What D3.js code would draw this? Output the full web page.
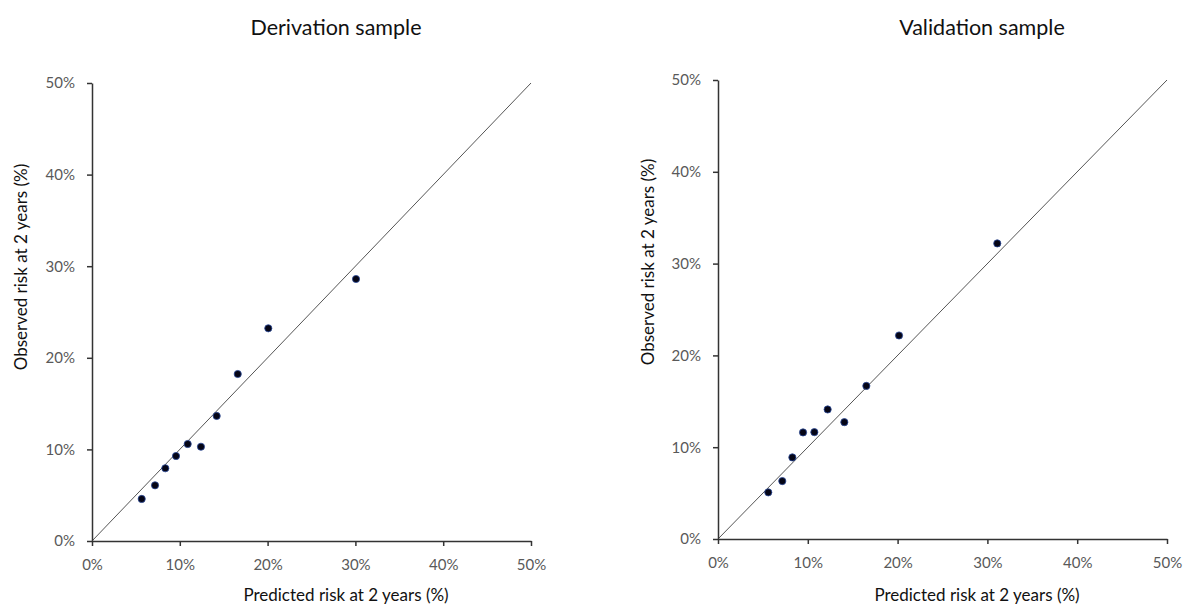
<!DOCTYPE html>
<html>
<head>
<meta charset="utf-8">
<script src="https://cdn.jsdelivr.net/npm/d3@7"></script>
<style>
  body { margin: 0; background: #fff; }
  text { font-family: Lato, "Open Sans", sans-serif; }
</style>
</head>
<body>
<div id="chart"></div>
<script>
// tick values shared by both panels (fractions)
var tickValues = [0, 0.1, 0.2, 0.3, 0.4, 0.5];

// derivation sample: predicted vs observed risk
var derivPredicted = [0.0566, 0.0718, 0.0835, 0.0957, 0.109, 0.1241, 0.142, 0.166, 0.2008, 0.3007];
var derivObserved  = [0.0459, 0.0608, 0.0794, 0.0928, 0.1059, 0.1029, 0.1365, 0.1823, 0.2322, 0.286];

// validation sample
var validPredicted = [0.056, 0.0716, 0.0828, 0.0947, 0.1073, 0.1221, 0.1407, 0.1652, 0.2016, 0.311];
var validObserved  = [0.0508, 0.0631, 0.0889, 0.1161, 0.1164, 0.1411, 0.1273, 0.1668, 0.2217, 0.322];

var titles = ["Derivation sample", "Validation sample"];
var xLabel = "Predicted risk at 2 years (%)";
var yLabel = "Observed risk at 2 years (%)";

var svg = d3.select("#chart")
    .append("svg")
        .attr("width", 1186)
        .attr("height", 605);

// panel frames (plot area in page pixels)
var panels = [
    {title: titles[0], pred: derivPredicted, obs: derivObserved,
     left: 92, right: 531, top: 83, bottom: 541, titleX: 336, yTitleX: 21, yTitleY: 267, xTitleX: 346},
    {title: titles[1], pred: validPredicted, obs: validObserved,
     left: 718, right: 1167, top: 80, bottom: 539, titleX: 982, yTitleX: 648, yTitleY: 262, xTitleX: 977}
];

var fmt = d3.format(".0%");

panels.forEach(function(p) {
    var x = d3.scaleLinear().domain([0, 0.5]).range([p.left, p.right]);
    var y = d3.scaleLinear().domain([0, 0.5]).range([p.bottom, p.top]);

    // reference diagonal
    svg.append("line")
        .attr("x1", x(0)).attr("y1", y(0))
        .attr("x2", x(0.5)).attr("y2", y(0.5))
        .attr("stroke", "#555")
        .attr("stroke-width", 1);

    // axes
    var gx = svg.append("g")
        .attr("transform", "translate(0," + p.bottom + ")")
        .call(d3.axisBottom(x).tickValues(tickValues).tickFormat(fmt).tickSize(5).tickSizeOuter(0));
    var gy = svg.append("g")
        .attr("transform", "translate(" + p.left + ",0)")
        .call(d3.axisLeft(y).tickValues(tickValues).tickFormat(fmt).tickSize(5).tickSizeOuter(0));

    [gx, gy].forEach(function(g) {
        g.select(".domain").attr("stroke", "#333").attr("stroke-width", 1.5);
        g.selectAll(".tick line").attr("stroke", "#333").attr("stroke-width", 1.5);
        g.selectAll(".tick text")
            .attr("fill", "#595959")
            .style("font-size", "15px")
            .style("font-family", "Lato, sans-serif");
    });
    gx.selectAll(".tick text").attr("dy", "1.4em");
    gy.selectAll(".tick text").attr("x", -17);

    // points
    svg.append("g")
        .selectAll("circle")
        .data(p.pred)
        .enter()
        .append("circle")
            .attr("cx", function(d) { return x(d); })
            .attr("cy", function(d, i) { return y(p.obs[i]); })
            .attr("r", 3.6)
            .attr("fill", "#050516")
            .attr("stroke", "#2b4a9a")
            .attr("stroke-width", 0.8);

    // titles
    svg.append("text")
        .attr("x", p.titleX)
        .attr("y", 35)
        .attr("text-anchor", "middle")
        .style("font-size", "21.5px")
        .attr("fill", "#111")
        .text(p.title);

    svg.append("text")
        .attr("x", p.xTitleX)
        .attr("y", 601)
        .attr("text-anchor", "middle")
        .style("font-size", "17px")
        .attr("fill", "#111")
        .text(xLabel);

    svg.append("text")
        .attr("transform", "translate(" + p.yTitleX + "," + p.yTitleY + ") rotate(-90)")
        .attr("dy", "0.35em")
        .attr("text-anchor", "middle")
        .style("font-size", "17px")
        .attr("fill", "#111")
        .text(yLabel);
});
</script>
</body>
</html>
